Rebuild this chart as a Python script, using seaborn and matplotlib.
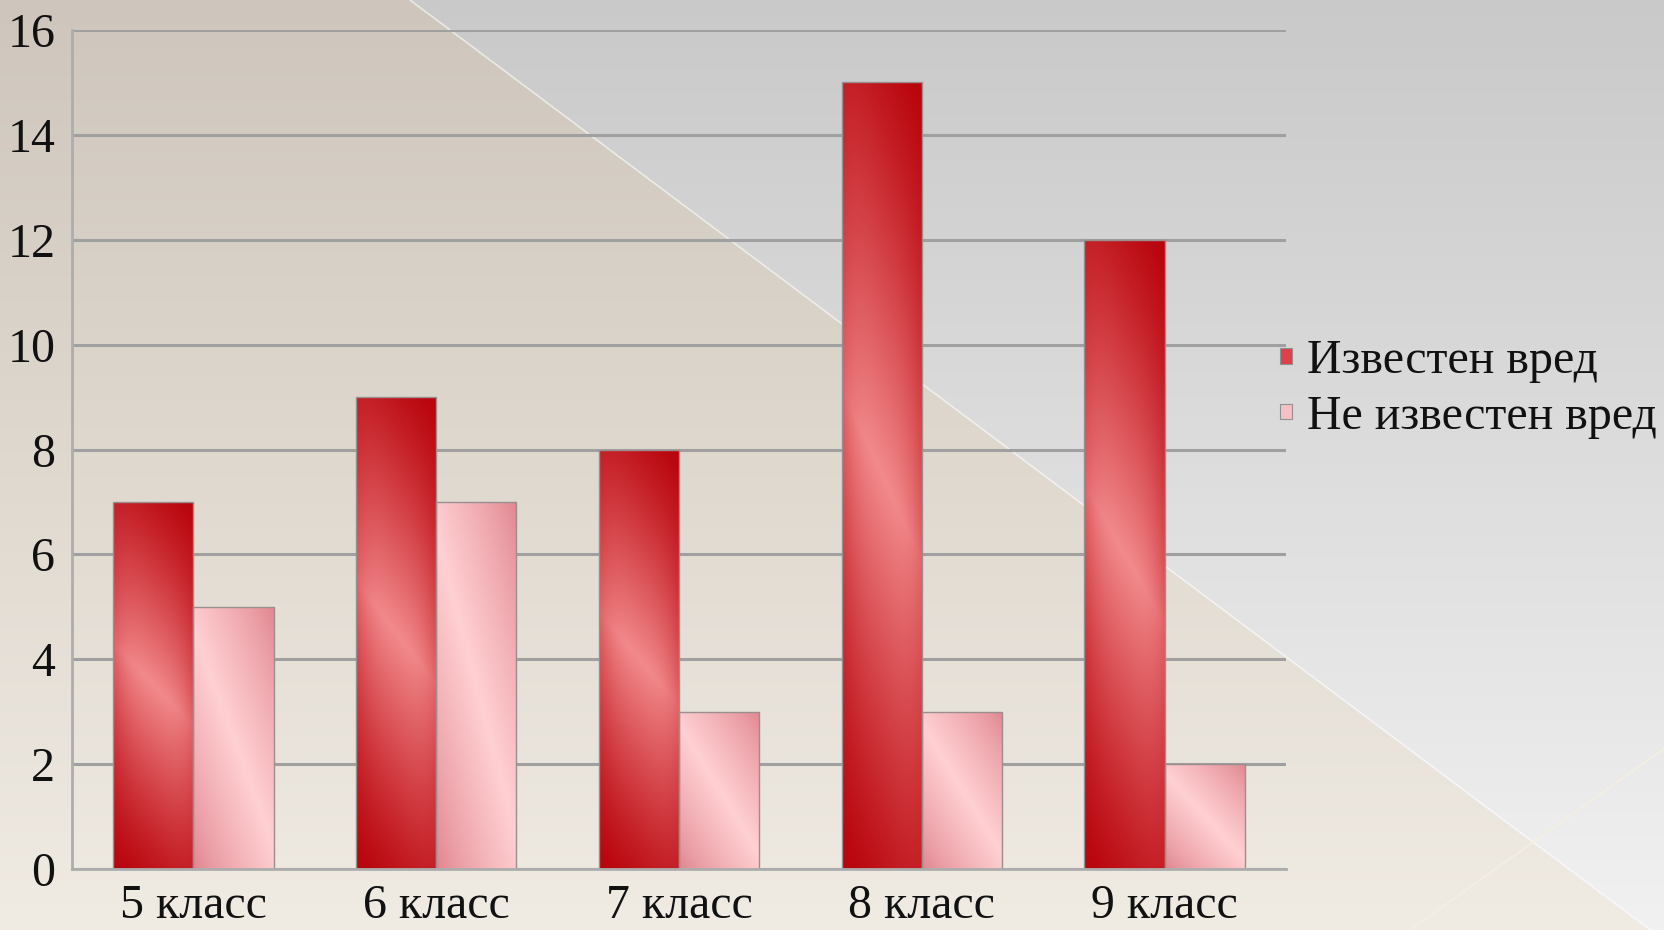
import numpy as np
import pandas as pd
import matplotlib
matplotlib.use("Agg")
import matplotlib.pyplot as plt
from matplotlib.patches import Rectangle
import seaborn as sns

# ---- data ----
categories = ["5 класс", "6 класс", "7 класс", "8 класс", "9 класс"]
series_names = ["Известен вред", "Не известен вред"]
known_harm = [7, 9, 8, 15, 12]
unknown_harm = [5, 7, 3, 3, 2]
y_ticks = [0, 2, 4, 6, 8, 10, 12, 14, 16]

df = pd.DataFrame({
    "Клас": categories * 2,
    "Серия": [series_names[0]] * len(categories) + [series_names[1]] * len(categories),
    "Брой": known_harm + unknown_harm,
})

sns.set_style("white")
plt.rcParams["font.family"] = ["Liberation Serif", "DejaVu Serif"]
plt.rcParams["text.color"] = "#111111"
plt.rcParams["xtick.color"] = "#111111"
plt.rcParams["ytick.color"] = "#111111"

FS = 34.5
W, H = 1665, 930
fig = plt.figure(figsize=(W / 100, H / 100), dpi=100)

# ---- slide background: grey gradient with a beige diagonal panel ----
bg = fig.add_axes([0, 0, 1, 1], zorder=-10)
yy, xx = np.mgrid[0:H, 0:W]
t = yy / (H - 1)
gray = 201 + 40 * t
gray_rgb = np.stack([gray] * 3, axis=-1)
beige_top = np.array([206, 198, 188])
beige_bot = np.array([240, 235, 227])
beige_rgb = beige_top + (beige_bot - beige_top) * t[..., None]
boundary = 410 + yy * (1665 - 410) / 941
mask = xx < boundary
img = np.where(mask[..., None], beige_rgb, gray_rgb) / 255.0
bg.imshow(img, extent=[0, W, H, 0], aspect="auto", interpolation="bilinear")
bg.plot([410, 1665], [0, 941], color="white", lw=1.2, alpha=0.6)
bg.plot([1410, 1665], [930, 748], color="#f6efe2", lw=1.5, alpha=0.8)
bg.set_xlim(0, W)
bg.set_ylim(H, 0)
bg.axis("off")

# ---- chart ----
ax = fig.add_axes([72 / W, 1 - 869 / H, (1286 - 72) / W, (869 - 30) / H])
ax.patch.set_alpha(0)

sns.barplot(data=df, x="Клас", y="Брой", hue="Серия",
            palette=["#d9333f", "#f6bcc0"], width=0.66, gap=0,
            saturation=1, legend=False, ax=ax,
            edgecolor="#9a8f8f", linewidth=1.0)


def bar_gradient(kind, nx=60, ny=240):
    x = np.linspace(0, 1, nx)[None, :]
    y = np.linspace(0, 1, ny)[:, None]
    if kind == 0:
        u = 0.18 * x + 0.82 * y
        end = np.array([185, 4, 12])
        mid = np.array([242, 138, 140])
        s = (1 - np.abs(2 * u - 1)) ** 1.25
        s = s * (1 - 0.3 * np.abs(2 * x - 1) ** 3)
    else:
        u = 0.45 * x + 0.55 * y
        end = np.array([224, 132, 142])
        mid = np.array([255, 208, 210])
        s = (1 - np.abs(2 * u - 1)) ** 0.8
    s = np.clip(s, 0, 1)[..., None]
    return (end + (mid - end) * s) / 255.0


for ci, cont in enumerate(ax.containers):
    for bar in cont:
        x0, y0 = bar.get_x(), bar.get_y()
        w, h = bar.get_width(), bar.get_height()
        z = bar.get_zorder()
        im = ax.imshow(bar_gradient(ci), extent=[x0, x0 + w, y0, y0 + h],
                       origin="lower", aspect="auto", interpolation="bicubic",
                       zorder=z + 0.1)
        im.set_clip_path(bar)
        bar.set_facecolor("none")
        bar.set_zorder(z + 0.2)

ax.set_xlim(-0.5, len(categories) - 0.5)
ax.set_ylim(0, 16)
ax.set_yticks(y_ticks)
ax.set_xlabel("")
ax.set_ylabel("")

grid_col = "#a0a0a0"
ax.yaxis.grid(True, color=grid_col, lw=2.2)
ax.xaxis.grid(False)
ax.set_axisbelow(True)

for side in ["top", "right"]:
    ax.spines[side].set_visible(False)
for side in ["left", "bottom"]:
    ax.spines[side].set_color("#adadad")
    ax.spines[side].set_linewidth(2)

ax.tick_params(axis="y", length=9, width=2.2, color="#a8a8a8", pad=3, labelsize=FS)
ax.set_xticks(np.arange(-0.5, len(categories), 1), minor=True)
ax.tick_params(axis="x", which="minor", length=10, width=2, color="#adadad")
ax.tick_params(axis="x", which="major", length=0, pad=11, labelsize=FS)

handles = [Rectangle((0, 0), 1, 1, facecolor="#e0404c", edgecolor="#909090", lw=0.8),
           Rectangle((0, 0), 1, 1, facecolor="#f6c0c4", edgecolor="#909090", lw=0.8)]
fig.legend(handles, series_names, loc="center left",
           bbox_to_anchor=(1280 / W, 1 - 389 / H), frameon=False, fontsize=FS,
           handlelength=0.26, handleheight=0.12, handletextpad=0.3,
           labelspacing=0.24, borderpad=0, borderaxespad=0)

fig.savefig("out.png", dpi=100)
